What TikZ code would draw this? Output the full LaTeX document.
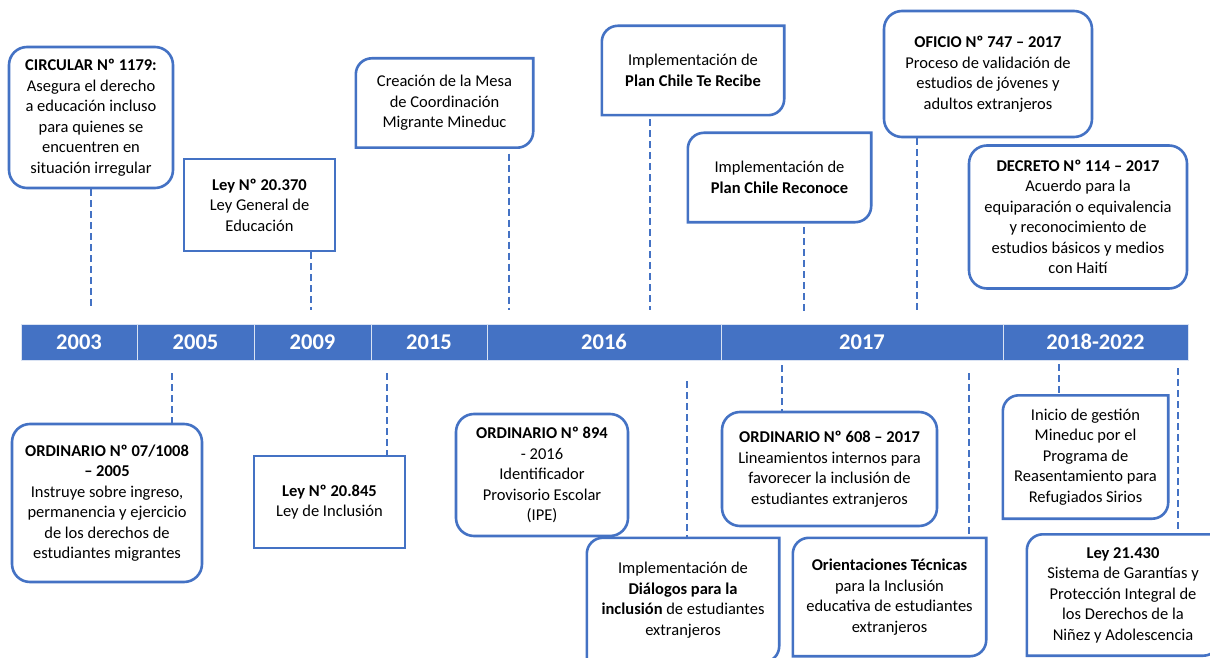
\documentclass[tikz,border=0pt]{standalone}
\usepackage{fontspec}
\setmainfont{Carlito}
\usetikzlibrary{positioning}

\definecolor{tlblue}{HTML}{4472C4}

\tikzset{
  boxline/.style={draw=tlblue, line width=2.6pt},
  event/.style={fill=white, inner sep=0pt, align=center, font=\fontsize{16.5}{20.5}\selectfont},
  roundbox/.style={event, boxline, rounded corners=18pt},
  rectbox/.style={event, boxline},
  tagnode/.style={event},
  link/.style={tlblue, line width=2.6pt, dash pattern=on 7pt off 4pt},
  yearcell/.style={fill=tlblue, draw=white!80!tlblue, line width=1pt, minimum height=36pt, inner sep=0pt,
    text=white, font=\fontsize{22.5}{26}\selectfont\bfseries}
}

\newcommand\tagbox[1]{%
  \draw[boxline] ([xshift=16pt]#1.north west) -- (#1.north east) -- ([yshift=16pt]#1.south east)
    arc[start angle=0,end angle=-90,radius=16pt] -- (#1.south west) -- ([yshift=-16pt]#1.north west)
    arc[start angle=180,end angle=90,radius=16pt] -- cycle;}

\begin{document}
\begin{tikzpicture}[x=1pt, y=-1pt]
\useasboundingbox (0,0) rectangle (1210,658);
\clip (0,0) rectangle (1210,658);

% time line
\foreach \a/\b/\t [count=\i] in {21/137/2003,137/254/2005,254/371/2009,371/487/2015,487/721/2016,721/1003/2017,1003/1188/2018-2022}
  \node[yearcell, minimum width={\b-\a}] (yr\i) at ({(\a+\b)/2},342) {\t};

% above
\node[roundbox, minimum width=164, minimum height=141] (circ) at (91,117.5)
  {\textbf{CIRCULAR Nº 1179:}\\Asegura el derecho\\a educación incluso\\para quienes se\\encuentren en\\situación irregular};
\node[rectbox, minimum width=151, minimum height=92] (ley370) at (259.5,205)
  {\textbf{Ley Nº 20.370}\\Ley General de\\Educación};
\node[tagnode, minimum width=177, minimum height=89] (mesa) at (444.5,103)
  {Creación de la Mesa\\de Coordinación\\Migrante Mineduc};
\node[tagnode, minimum width=182, minimum height=89] (recibe) at (693,70.5)
  {Implementación de\\\textbf{Plan Chile Te Recibe}};
\node[tagnode, minimum width=183, minimum height=89] (reconoce) at (779.5,177.5)
  {Implementación de\\\textbf{Plan Chile Reconoce}};
\node[roundbox, minimum width=208, minimum height=126] (oficio) at (988,74)
  {\textbf{OFICIO Nº 747 – 2017}\\Proceso de validación de\\estudios de jóvenes y\\adultos extranjeros};
\node[roundbox, minimum width=218, minimum height=143] (decreto) at (1078,217)
  {\textbf{DECRETO Nº 114 – 2017}\\Acuerdo para la\\equiparación o equivalencia\\y reconocimiento de\\estudios básicos y medios\\con Haití};

% below
\node[roundbox, minimum width=190, minimum height=158] (ord07) at (107,503)
  {\textbf{ORDINARIO Nº 07/1008}\\\textbf{– 2005}\\Instruye sobre ingreso,\\permanencia y ejercicio\\de los derechos de\\estudiantes migrantes};
\node[rectbox, minimum width=151, minimum height=92] (ley845) at (329.5,502)
  {\textbf{Ley Nº 20.845}\\Ley de Inclusión};
\node[roundbox, minimum width=172, minimum height=122] (ord894) at (542,475)
  {\textbf{ORDINARIO Nº 894}\\- 2016\\Identificador\\Provisorio Escolar\\(IPE)};
\node[tagnode, minimum width=192, minimum height=124] (dialogos) at (683,600)
  {Implementación de\\\textbf{Diálogos para la}\\\textbf{inclusión} de estudiantes\\extranjeros};
\node[roundbox, minimum width=215, minimum height=114] (ord608) at (829.5,469)
  {\textbf{ORDINARIO Nº 608 – 2017}\\Lineamientos internos para\\favorecer la inclusión de\\estudiantes extranjeros};
\node[tagnode, minimum width=193, minimum height=118] (orient) at (889.5,597)
  {\textbf{Orientaciones Técnicas}\\para la Inclusión\\educativa de estudiantes\\extranjeros};
\node[tagnode, minimum width=165, minimum height=123] (inicio) at (1085.5,457)
  {Inicio de gestión\\Mineduc por el\\Programa de\\Reasentamiento para\\Refugiados Sirios};
\node[tagnode, minimum width=192, minimum height=121] (ley430) at (1123,595)
  {\textbf{Ley 21.430}\\Sistema de Garantías y\\Protección Integral de\\los Derechos de la\\Niñez y Adolescencia};

\tagbox{mesa}
\tagbox{recibe}
\tagbox{reconoce}
\tagbox{dialogos}
\tagbox{orient}
\tagbox{inicio}
\tagbox{ley430}

% free ends near the bar
\coordinate (e1) at (91,310);
\coordinate (e2) at (311,310);
\coordinate (e3) at (509,310);
\coordinate (e4) at (650,310);
\coordinate (e5) at (804,312);
\coordinate (e6) at (917,310);
\coordinate (f1) at (172,373);
\coordinate (f2) at (387,373);
\coordinate (f3) at (687,381);
\coordinate (f4) at (782,365);
\coordinate (f5) at (969,373);
\coordinate (f6) at (1059,364);
\coordinate (f7) at (1178,368);

\draw[link] (circ.south -| e1) -- (e1);
\draw[link] (ley370.south -| e2) -- (e2);
\draw[link] ([yshift=-6pt]mesa.south -| e3) -- (e3);
\draw[link] ([yshift=-4pt]recibe.south -| e4) -- (e4);
\draw[link] ([yshift=-5pt]reconoce.south -| e5) -- (e5);
\draw[link] (oficio.south -| e6) -- (e6);

\draw[link] (f1) -- (ord07.north -| f1);
\draw[link] (f2) -- (ley845.north -| f2);
\draw[link] (f3) -- (dialogos.north -| f3);
\draw[link] (f4) -- (ord608.north -| f4);
\draw[link] (f5) -- (orient.north -| f5);
\draw[link] (f6) -- (inicio.north -| f6);
\draw[link] (f7) -- (ley430.north -| f7);

\end{tikzpicture}
\end{document}
